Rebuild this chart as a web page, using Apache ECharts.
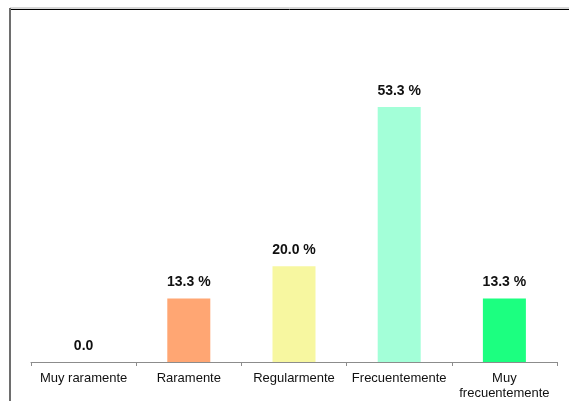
<!DOCTYPE html>
<html>
<head>
<meta charset="utf-8">
<script src="https://cdn.jsdelivr.net/npm/echarts@6/dist/echarts.min.js"></script>
<style>
html,body{margin:0;padding:0;background:#fff;}
#c{width:569px;height:401px;}
</style>
</head>
<body>
<div id="c"></div>
<script>
var categories = ['Muy raramente', 'Raramente', 'Regularmente', 'Frecuentemente', 'Muy\nfrecuentemente'];
var values = [0.0, 13.3, 20.0, 53.3, 13.3];
var barColors = ['#FFA673', '#FFA673', '#F7F7A0', '#A3FFD8', '#1CFF80'];

var chart = echarts.init(document.getElementById('c'), null, {renderer: 'canvas'});
chart.setOption({
  animation: false,
  backgroundColor: '#fff',
  grid: {left: 31, right: 12, top: 75, bottom: 36},
  xAxis: {
    type: 'category',
    data: categories,
    axisLine: {lineStyle: {color: '#8c8c8c', width: 1}},
    axisTick: {show: true, length: 4, lineStyle: {color: '#8c8c8c'}},
    axisLabel: {
      color: '#111', fontFamily: 'Liberation Sans, Arial', fontSize: 13,
      margin: 9, lineHeight: 15, interval: 0
    }
  },
  yAxis: {
    type: 'value', min: 0, max: 60,
    show: false,
    splitLine: {show: false}
  },
  series: [{
    type: 'bar',
    data: values.map(function(v, i){ return {value: v, itemStyle: {color: barColors[i]}}; }),
    barWidth: 43,
    label: {
      show: true, position: 'top', distance: 9,
      color: '#111', fontFamily: 'Liberation Sans, Arial', fontSize: 14, fontWeight: 'bold',
      formatter: function(p){ return p.value === 0 ? '0.0' : p.value.toFixed(1) + ' %'; }
    }
  }],
  graphic: [
    {type: 'line', shape: {x1: 10, y1: 8, x2: 569, y2: 8}, style: {stroke: '#b0b0b0', lineWidth: 1}, silent: true},
    {type: 'line', shape: {x1: 10, y1: 9.5, x2: 569, y2: 9.5}, style: {stroke: '#000', lineWidth: 1}, silent: true},
    {type: 'line', shape: {x1: 10, y1: 8, x2: 10, y2: 401}, style: {stroke: '#6e6e6e', lineWidth: 2}, silent: true}
  ]
});
</script>
</body>
</html>
